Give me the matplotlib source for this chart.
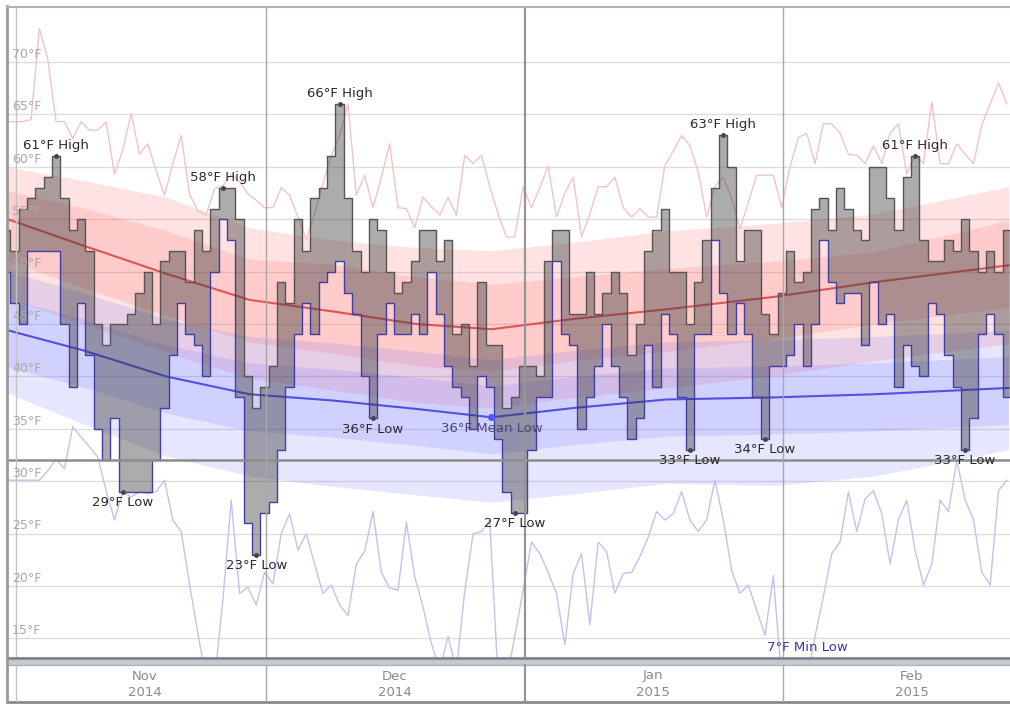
import numpy as np
import matplotlib.pyplot as plt
from matplotlib.lines import Line2D

# days are counted from Nov 1, 2014 (day 0); first bar is Oct 31
first_day = -1

daily_high = [54, 52, 56, 57, 58, 59, 61, 57, 54, 55, 52, 45, 43, 45, 45, 46, 48, 50, 45, 51,
              52, 52, 49, 54, 52, 56, 58, 58, 55, 40, 37, 39, 41, 49, 47, 55, 52, 57, 58, 61,
              66, 57, 52, 50, 55, 54, 50, 48, 49, 51, 54, 54, 51, 53, 44, 45, 41, 49, 43, 43,
              37, 38, 41, 41, 40, 51, 54, 54, 46, 46, 50, 46, 48, 50, 48, 42, 45, 52, 54, 56,
              50, 50, 45, 49, 53, 58, 63, 60, 51, 54, 54, 46, 44, 48, 52, 49, 50, 56, 57, 54,
              58, 56, 54, 53, 60, 60, 57, 54, 59, 61, 53, 51, 51, 53, 52, 55, 52, 50, 52, 50,
              54]
daily_low = [50, 47, 45, 52, 52, 52, 52, 45, 39, 47, 42, 35, 32, 36, 29, 29, 29, 29, 32, 37,
             42, 47, 44, 43, 40, 50, 55, 53, 38, 26, 23, 27, 28, 33, 39, 44, 47, 44, 49, 50,
             51, 48, 46, 40, 36, 44, 47, 44, 44, 46, 44, 50, 46, 41, 39, 38, 35, 40, 39, 34,
             29, 27, 27, 33, 38, 38, 51, 44, 43, 35, 38, 41, 45, 41, 38, 34, 36, 43, 39, 46,
             44, 38, 33, 44, 44, 53, 48, 44, 47, 44, 38, 34, 41, 41, 42, 45, 41, 45, 53, 49,
             47, 48, 48, 43, 49, 45, 46, 39, 43, 41, 40, 47, 46, 42, 39, 33, 36, 44, 46, 44,
             38]
record_high = [64.3, 64.3, 64.3, 64.5, 73.2, 70.3, 64.3, 64.3, 62.7, 64.3, 63.5, 63.5, 64.3, 59.3,
               61.6, 65.1, 61.2, 62.2, 59.6, 57.3, 60.3, 63.0, 57.4, 55.8, 55.4, 57.9, 58.2, 59.3,
               58.6, 57.4, 56.8, 56.1, 56.1, 58.0, 57.3, 55.2, 53.1, 55.5, 58.4, 61.0, 63.0, 66.0,
               57.3, 59.2, 56.1, 59.0, 62.2, 56.1, 56.0, 54.2, 57.1, 56.2, 55.4, 57.1, 55.4, 61.1,
               60.3, 61.1, 58.1, 55.5, 53.3, 53.3, 58.1, 56.1, 58.0, 60.1, 55.2, 57.5, 59.0, 53.3,
               55.5, 58.1, 58.1, 59.0, 56.1, 55.2, 56.0, 55.2, 55.2, 60.1, 61.5, 63.0, 62.0, 59.5,
               55.2, 58.1, 59.0, 57.0, 54.1, 56.6, 59.2, 59.2, 59.2, 56.1, 60.0, 62.8, 63.2, 60.3,
               64.1, 64.1, 63.2, 61.2, 61.1, 60.3, 62.0, 60.3, 63.2, 64.1, 59.3, 61.2, 60.3, 66.2,
               60.3, 60.3, 62.2, 61.2, 60.3, 64.0, 66.0, 68.0, 66.0]
record_low = [30.1, 30.1, 30.1, 30.1, 30.1, 31.0, 32.1, 31.2, 35.2, 34.2, 33.3, 32.3, 29.1, 26.3,
              29.0, 28.5, 29.0, 28.8, 29.0, 30.1, 26.3, 25.2, 20.2, 15.5, 11.0, 11.0, 18.7, 28.2,
              19.3, 19.9, 18.2, 21.3, 20.2, 25.0, 26.9, 23.4, 25.0, 22.1, 19.3, 20.1, 18.2, 17.2,
              22.1, 23.3, 27.1, 21.3, 19.8, 19.6, 26.1, 20.9, 18.0, 14.5, 12.0, 15.2, 12.0, 19.5,
              25.0, 25.2, 26.3, 11.0, 11.0, 15.2, 19.6, 24.2, 23.1, 21.3, 19.3, 14.4, 21.2, 23.1,
              16.3, 24.2, 23.3, 19.3, 21.2, 21.3, 22.8, 24.7, 27.1, 26.3, 26.9, 29.0, 26.3, 25.2,
              26.3, 30.1, 26.3, 21.5, 19.3, 20.1, 17.7, 15.3, 21.0, 11.0, 9.0, 7.0, 11.0, 15.2,
              19.0, 23.1, 24.2, 29.0, 25.2, 28.3, 29.1, 26.9, 22.1, 26.3, 28.2, 23.4, 20.1, 22.1,
              28.2, 27.1, 32.0, 28.2, 26.3, 21.3, 20.1, 29.1, 30.1]

# historical normals (read at a few dates)
anchor_days = [-1, 8, 18, 28, 38, 48, 57, 67, 78, 91, 103, 119]
mean_high = [55.0, 52.5, 49.8, 47.3, 46.2, 45.0, 44.5, 45.5, 46.4, 47.6, 49.0, 50.6]
high_p90 = [60.0, 58.7, 57.1, 54.2, 53.0, 52.3, 52.0, 52.8, 53.9, 54.6, 55.5, 58.1]
high_p75 = [57.7, 56.1, 53.9, 51.2, 50.7, 49.5, 48.8, 49.5, 50.3, 51.0, 51.9, 54.9]
high_p25 = [51.0, 48.5, 45.8, 43.3, 42.2, 41.0, 40.5, 41.5, 42.4, 43.6, 45.0, 46.6]
high_p10 = [47.5, 45.0, 42.3, 39.8, 38.7, 37.5, 37.0, 38.0, 38.9, 40.1, 41.5, 43.1]
mean_low = [44.4, 42.5, 40.0, 38.3, 37.7, 36.9, 36.1, 37.0, 37.8, 38.0, 38.3, 38.9]
low_p90 = [50.0, 48.0, 45.5, 43.8, 43.2, 42.4, 41.6, 42.5, 43.3, 43.5, 43.8, 44.4]
low_p75 = [47.4, 45.5, 43.0, 41.3, 40.7, 39.9, 39.1, 40.0, 40.8, 41.0, 41.3, 41.9]
low_p25 = [40.9, 39.0, 36.5, 34.8, 34.2, 33.4, 32.6, 33.5, 34.3, 34.5, 34.8, 35.4]
low_p10 = [38.4, 35.5, 32.4, 30.5, 29.5, 28.7, 28.0, 28.8, 29.8, 29.6, 30.5, 33.0]

high_labels = [6, 26, 40, 86, 109]          # bar positions in the arrays
low_labels = [14, 30, 44, 61, 82, 91, 115]

month_starts = [0, 30, 61, 92]
month_names = ['Nov', 'Dec', 'Jan', 'Feb']
month_years = ['2014', '2014', '2015', '2015']

W, H = 1010, 704
fig = plt.figure(figsize=(W / 100, H / 100), dpi=100)
ax = fig.add_axes([8 / W, 1 - 657 / H, 1 - 8 / W, 649 / H])
ax.set_xlim(-0.96, 119.18)
ax.set_ylim(13.23, 75.15)
for s in ax.spines.values():
    s.set_visible(False)
ax.set_xticks([])
ax.set_yticks([])

n = len(daily_high)
edges = first_day + np.arange(n + 1) - 0.695
centers = first_day + np.arange(n) - 0.195
hi = np.append(daily_high, daily_high[-1])
lo = np.append(daily_low, daily_low[-1])

# grid
for t in range(15, 75, 5):
    ax.axhline(t, color='#dddddd', lw=1, zorder=0)
    ax.text(0.004, t + 0.12, f'{t}°F', transform=ax.get_yaxis_transform(),
            color='#a8a8a8', fontsize=9, va='bottom', ha='left', zorder=6)

# normal bands
ax.fill_between(anchor_days, high_p10, high_p90, color='#ff5a5a', alpha=0.17, lw=0, zorder=1)
ax.fill_between(anchor_days, high_p25, high_p75, color='#ff5a5a', alpha=0.17, lw=0, zorder=1)
ax.fill_between(anchor_days, low_p10, low_p90, color='#5a5aff', alpha=0.15, lw=0, zorder=1)
ax.fill_between(anchor_days, low_p25, low_p75, color='#5a5aff', alpha=0.15, lw=0, zorder=1)
ax.plot(anchor_days, mean_high, color='#dd5555', lw=1.5, zorder=2)
ax.plot(anchor_days, mean_low, color='#5050e2', lw=1.5, zorder=2)

# record lines
ax.plot(centers, record_high, color='#f2c4c4', lw=1, zorder=2)
ax.plot(centers, record_low, color='#c2c2ec', lw=1, zorder=2)

# daily range bars
ax.fill_between(edges, lo, hi, step='post', color='#3a3a3a', alpha=0.42, lw=0, zorder=3)
ax.step(edges, hi, where='post', color='#5a5555', lw=1.0, zorder=3.5)
ax.step(edges, lo, where='post', color='#4040a4', lw=1.0, zorder=3.5)

# freezing line and month lines
ax.axhline(32, color='#8c8c8c', lw=1.8, zorder=4)
line_cols = ['#c4c4c4', '#a8a8a8', '#969696', '#a8a8a8']
line_w = [1, 1, 1.6, 1]
for d, c, w in zip(month_starts, line_cols, line_w):
    ax.axvline(d, color=c, lw=w, zorder=4)

# labels
for i in high_labels:
    ax.plot(centers[i], daily_high[i], 'o', ms=2.5, color='#444444', zorder=5)
    ax.text(centers[i], daily_high[i] + 0.4, f'{daily_high[i]}°F High', ha='center',
            va='bottom', fontsize=9.5, color='#2a2a2a', zorder=6)
for i in low_labels:
    ax.plot(centers[i], daily_low[i], 'o', ms=2.5, color='#444444', zorder=5)
    ax.text(centers[i], daily_low[i] - 0.4, f'{daily_low[i]}°F Low', ha='center',
            va='top', fontsize=9.5, color='#2a2a2a', zorder=6)

k = int(np.argmin(mean_low))
ax.plot(anchor_days[k], mean_low[k], 'o', ms=4, color='#4a5af0', zorder=5)
ax.text(anchor_days[k], mean_low[k] - 0.45, f'{mean_low[k]:.0f}°F Mean Low', ha='center',
        va='top', fontsize=9.5, color='#48487a', zorder=6)

m = int(np.argmin(record_low))
ax.text(centers[m] + 1.1, 14.1, f'{record_low[m]:.0f}°F Min Low', ha='center', va='center',
        fontsize=9.5, color='#3a3aa8', zorder=6)

# bottom strip with month labels
bx = fig.add_axes([8 / W, 0, 1 - 8 / W, 47 / H])
bx.set_xlim(ax.get_xlim())
bx.set_ylim(47, 0)
for s in bx.spines.values():
    s.set_visible(False)
bx.set_xticks([])
bx.set_yticks([])
bx.axhspan(0, 8, color='#c5cad0', lw=0)
bx.axhline(0.8, color='#7a8088', lw=1.8)
bx.axhline(7.5, color='#aeb4ba', lw=1)
bx.axhline(44.5, color='#8a8a8a', lw=2)
for d, c, w in zip(month_starts, line_cols, line_w):
    bx.plot([d, d], [8, 44], color=c, lw=w)
for d, nm, yr in zip(month_starts, month_names, month_years):
    bx.text(d + 15.4, 19, nm, ha='center', va='center', fontsize=9.5, color='#8a8a8a')
    bx.text(d + 15.4, 35, yr, ha='center', va='center', fontsize=9.5, color='#8a8a8a')

# outer frame
fig.add_artist(Line2D([7 / W, 7 / W], [0, 1 - 6 / H], color='#9a9a9a', lw=2))
fig.add_artist(Line2D([7 / W, 1], [1 - 7 / H, 1 - 7 / H], color='#b0b0b0', lw=1.5))

fig.savefig('out.png', dpi=100)
